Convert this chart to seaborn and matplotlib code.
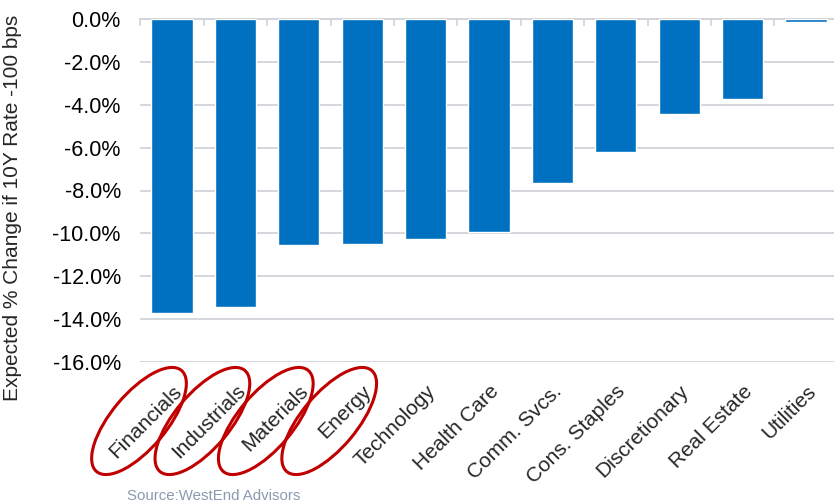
import matplotlib
matplotlib.use("Agg")
import matplotlib.pyplot as plt
import matplotlib.transforms as mtransforms
from matplotlib.patches import Ellipse
from matplotlib.ticker import FixedLocator, FuncFormatter
import seaborn as sns
import pandas as pd

sectors = ["Financials", "Industrials", "Materials", "Energy", "Technology",
           "Health Care", "Comm. Svcs.", "Cons. Staples", "Discretionary",
           "Real Estate", "Utilities"]
changes = [-13.7, -13.42, -10.54, -10.48, -10.26, -9.92, -7.65, -6.2, -4.42, -3.73, -0.15]
circled = ["Financials", "Industrials", "Materials", "Energy"]
y_ticks = [0, -2, -4, -6, -8, -10, -12, -14, -16]

sns.set_style("white")
plt.rcParams["font.family"] = ["Liberation Sans", "DejaVu Sans"]

df = pd.DataFrame({"sector": sectors, "change": changes})

fig = plt.figure(figsize=(8.34, 5.04), dpi=100)
ax = fig.add_axes([140.3 / 834, 142 / 504, 697.4 / 834, 343 / 504])

sns.barplot(data=df, x="sector", y="change", color="#0070C0", width=0.65,
            saturation=1, ax=ax, zorder=3)

ax.set_ylim(-16, 0)
ax.set_xlim(-0.5, len(sectors) - 0.5)
ax.yaxis.set_major_locator(FixedLocator(y_ticks))
ax.yaxis.set_major_formatter(FuncFormatter(lambda v, p: f"{v:.1f}%"))
ax.grid(axis="y", color="#D0D3D8", linewidth=1.3, zorder=0)
ax.grid(axis="x", visible=False)
for s in ["left", "right", "bottom"]:
    ax.spines[s].set_visible(False)
ax.spines["top"].set_visible(True)
ax.spines["top"].set_color("#D0D3D8")
ax.spines["top"].set_linewidth(1.3)

ax.tick_params(axis="y", length=0, pad=14, labelsize=15.5, labelcolor="#000000")
ax.tick_params(axis="x", which="major", length=0, pad=14, labelsize=15)
ax.set_xticks(range(len(sectors)))
ax.set_xticklabels(sectors, rotation=45, ha="right", rotation_mode="anchor")

ax.xaxis.set_minor_locator(FixedLocator([i - 0.5 for i in range(len(sectors) + 1)]))
ax.tick_params(axis="x", which="minor", top=True, bottom=False, direction="in",
               length=5, width=1.2, color="#D0D3D8")

ax.set_xlabel("")
ax.set_ylabel("Expected % Change if 10Y Rate -100 bps", fontsize=15)
ax.yaxis.set_label_coords((22 - 140.3) / 697.4, (504 - 208 - 142) / 343)

for name in circled:
    i = sectors.index(name)
    trans = fig.dpi_scale_trans + mtransforms.ScaledTranslation(i, -16, ax.transData)
    e = Ellipse((-0.33, -0.59), width=1.32, height=0.55, angle=50,
                fill=False, edgecolor="#C00000", linewidth=2.2,
                transform=trans, clip_on=False)
    fig.add_artist(e)

fig.text(127 / 834, 8 / 504, "Source:WestEnd Advisors", color="#8A9AB0",
         fontsize=10.8, va="center", ha="left")

fig.savefig("out.png", dpi=100)
